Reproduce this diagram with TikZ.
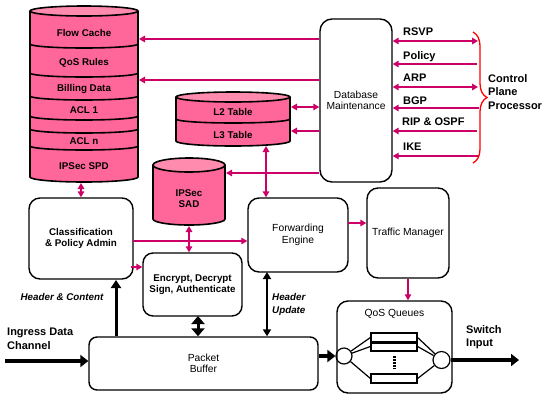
\documentclass[tikz,border=0pt]{standalone}
\usepackage{fontspec}
\setmainfont{Liberation Sans}
\usetikzlibrary{arrows.meta,decorations.pathreplacing}
\definecolor{dbpink}{RGB}{255,102,153}
\definecolor{dbtop}{RGB}{255,140,175}
\definecolor{linkpink}{RGB}{204,0,102}
\tikzset{
  box/.style={draw, line width=1.4pt, rounded corners=11pt, align=center, inner sep=0pt, font=\fontsize{10.3}{11.5}\selectfont},
  boldbox/.style={box, font=\fontsize{9.8}{11.5}\selectfont\bfseries},
  dbline/.style={draw=black, line width=1.6pt},
  dbtxt/.style={font=\fontsize{9.8}{11.5}\selectfont\bfseries, align=center, inner sep=0pt},
  proto/.style={font=\fontsize{11}{13.5}\selectfont\bfseries, anchor=west, inner sep=0pt, align=left},
  note/.style={font=\fontsize{9.8}{13}\selectfont\bfseries\itshape, inner sep=0pt, align=left},
  pa/.style={draw=linkpink, line width=1.6pt, -{Triangle[length=6pt,width=6.5pt]}},
  pab/.style={draw=linkpink, line width=1.6pt, {Triangle[length=6pt,width=6.5pt]}-{Triangle[length=6pt,width=6.5pt]}},
  pthin/.style={pa, line width=1.1pt},
  fat/.style={line width=4pt, -{Triangle[length=8pt,width=12pt]}},
  queue/.style={draw, line width=1.2pt, minimum width=46pt, minimum height=9pt, inner sep=0pt},
  port/.style={circle, draw, line width=1.2pt, inner sep=0pt},
}
\begin{document}
\begin{tikzpicture}[x=1pt,y=-1pt]
\fill[white] (0,0) rectangle (553,416);
\useasboundingbox (0,0) rectangle (553,416);

% left database stack
\fill[dbpink] (30,11) -- (30,177) arc[start angle=180,end angle=0,x radius=54,y radius=5] -- (138,11) -- cycle;
\draw[dbline] (30,11) -- (30,177) arc[start angle=180,end angle=0,x radius=54,y radius=5] -- (138,11);
\draw[dbline] (30,44) arc[start angle=180,end angle=0,x radius=54,y radius=4];
\draw[dbline] (30,73) arc[start angle=180,end angle=0,x radius=54,y radius=4];
\draw[dbline] (30,96) arc[start angle=180,end angle=0,x radius=54,y radius=4];
\draw[dbline] (30,116) arc[start angle=180,end angle=0,x radius=54,y radius=4];
\draw[dbline] (30,129) arc[start angle=180,end angle=0,x radius=54,y radius=4];
\draw[dbline] (30,146) arc[start angle=180,end angle=0,x radius=54,y radius=4];
\filldraw[dbline, fill=dbtop] (84,11) ellipse[x radius=54,y radius=5];
\node[dbtxt] (flow) at (84,33) {Flow Cache};
\node[dbtxt] (qosr) at (84,63) {QoS Rules};
\node[dbtxt] (bill) at (84,89) {Billing Data};
\node[dbtxt] (acl1) at (84,110) {ACL 1};
\node[dbtxt] (acln) at (84,141) {ACL n};
\node[dbtxt] (spd) at (84,166) {IPSec SPD};

% L2/L3 tables
\fill[dbpink] (176,97) -- (176,141) arc[start angle=180,end angle=0,x radius=57,y radius=5] -- (290,97) -- cycle;
\draw[dbline] (176,97) -- (176,141) arc[start angle=180,end angle=0,x radius=57,y radius=5] -- (290,97);
\draw[dbline] (176,119) arc[start angle=180,end angle=0,x radius=57,y radius=4];
\filldraw[dbline, fill=dbtop] (233,97) ellipse[x radius=57,y radius=5];
\node[dbtxt] (l2) at (233,112) {L2 Table};
\node[dbtxt] (l3) at (233,135) {L3 Table};

% IPSec SAD
\fill[dbpink] (153,165) -- (153,219) arc[start angle=180,end angle=0,x radius=36,y radius=6] -- (225,165) -- cycle;
\draw[dbline] (153,165) -- (153,219) arc[start angle=180,end angle=0,x radius=36,y radius=6] -- (225,165);
\filldraw[dbline, fill=dbtop] (189,165) ellipse[x radius=36,y radius=7];
\node[dbtxt] (sad) at (189,198.5) {IPSec\\SAD};

% boxes
\node[box, minimum width=72pt, minimum height=163pt, rounded corners=12pt] (dbm) at (356,100.5) {Database\\Maintenance};
\node[boldbox, minimum width=104pt, minimum height=81pt] (cpa) at (81,238.5) {Classification\\\& Policy Admin};
\node[boldbox, minimum width=99pt, minimum height=63pt, rounded corners=10pt] (enc) at (192.5,284.5) {Encrypt, Decrypt\\Sign, Authenticate};
\node[box, minimum width=100pt, minimum height=74pt] (fwd) at (298,235) {Forwarding\\Engine};
\node[box, minimum width=82pt, minimum height=90pt] (tm) at (408,233) {Traffic Manager};
\node[box, minimum width=115pt, minimum height=92pt] (qos) at (394.5,347) {};
\node[box, draw=none] (qost) at ([yshift=-14pt]qos.north) {QoS Queues};
\node[box, minimum width=229pt, minimum height=53pt, rounded corners=8pt] (pb) at (203.5,363.5) {Packet\\Buffer};

% queues
\node[port, minimum size=16pt] (qi) at (344,356) {};
\node[port, minimum size=17pt] (qo) at (441.5,360) {};
\node[queue] (q1) at (394,337.5) {};
\node[queue] (q2) at (394,346.5) {};
\node[queue] (q3) at (394,378.5) {};
\draw[line width=3pt] (q1.south west) -- (q1.south east);
\draw[line width=1.2pt] (qi) -- (q1.west) (qi) -- (q2.west) (qi) -- (q3.west);
\draw[line width=1.2pt] (qo) -- (q1.east) (qo) -- (q2.east) (qo) -- (q3.east);
\draw[line width=3pt, dash pattern=on 2pt off 1.2pt, shorten <=4pt, shorten >=4pt] (q2.south) -- (q3.north);

% database maintenance links
\coordinate (flowin) at (139,39);
\coordinate (billin) at (139,80);
\coordinate (l2in) at (291,107);
\coordinate (l3in) at (291,131);
\coordinate (sadin) at (226,173);
\coordinate (l3out) at (266,146);
\coordinate (sadout) at (189,226);
\coordinate (spdout) at (81,183);
\draw[pa] (dbm.west |- flowin) -- (flowin);
\draw[pa] (dbm.west |- billin) -- (billin);
\draw[pab] (dbm.west |- l2in) -- (l2in);
\draw[pa] (dbm.west |- l3in) -- (l3in);
\draw[pthin] (dbm.west |- sadin) -- (sadin);
\draw[pab] (l3out) -- (l3out |- fwd.north);
\draw[pab] (sadout) -- (sadout |- enc.north);
\draw[pab] (spdout) -- (spdout |- cpa.north);

% control plane
\node[proto] (rsvp) at (403,32) {RSVP};
\node[proto] (poli) at (403,57) {Policy};
\node[proto] (arp) at (403,78) {ARP};
\node[proto] (bgp) at (403,101) {BGP};
\node[proto] (rip) at (402,122) {RIP \& OSPF};
\node[proto] (ike) at (403,147) {IKE};
\coordinate (rsvpe) at (478,41);
\coordinate (polie) at (477,64);
\coordinate (arpe) at (478,87);
\coordinate (bgpe) at (479,108);
\coordinate (ripe) at (477,131);
\coordinate (ikee) at (479,156);
\draw[pab] (dbm.east |- rsvpe) -- (rsvpe);
\draw[pa] (polie) -- (dbm.east |- polie);
\draw[pab] (dbm.east |- arpe) -- (arpe);
\draw[pa] (bgpe) -- (dbm.east |- bgpe);
\draw[pa] (ripe) -- (dbm.east |- ripe);
\draw[pthin] (ikee) -- (dbm.east |- ikee);
\draw[red, line width=1.3pt, decorate, decoration={brace, amplitude=14pt}] (473,32) -- (473,163);
\node[proto] (cpp) at (488,92) {Control\\Plane\\Processor};

% data path
\coordinate (cpar) at (133,241);
\coordinate (cpae) at (131,267);
\coordinate (fwdr) at (348,223);
\draw[pthin] (cpar) -- (cpar -| fwd.west);
\draw[pa] (cpae) -- (cpae -| enc.west);
\draw[pa] (fwdr) -- (fwdr -| tm.west);
\draw[pthin] (tm.south) -- (tm.south |- qos.north);

\coordinate (ing) at (5,361);
\coordinate (sw) at (519,360);
\coordinate (hc) at (116,280);
\coordinate (ep) at (198,316);
\coordinate (hu) at (267,272);
\draw[fat] (ing) -- (ing -| pb.west);
\draw[fat] (pb.east |- qi) -- (qi.west);
\draw[fat] (qo.east) -- (sw);
\draw[line width=3pt, -{Triangle[length=8pt,width=10pt]}] (hc |- pb.north) -- (hc);
\draw[line width=3pt, {Triangle[length=8pt,width=13pt]}-{Triangle[length=8pt,width=13pt]}] (ep) -- (ep |- pb.north);
\draw[line width=2pt, {Triangle[length=7pt,width=8pt]}-{Triangle[length=7pt,width=8pt]}] (hu) -- (hu |- pb.north);

\node[note] (hclbl) at (62,297) {Header \& Content};
\node[note, anchor=west] (hulbl) at (272,304.5) {Header\\Update};
\node[proto] (ingl) at (7,339) {Ingress Data\\Channel};
\node[proto] (swl) at (466,337) {Switch\\Input};
\end{tikzpicture}
\end{document}
